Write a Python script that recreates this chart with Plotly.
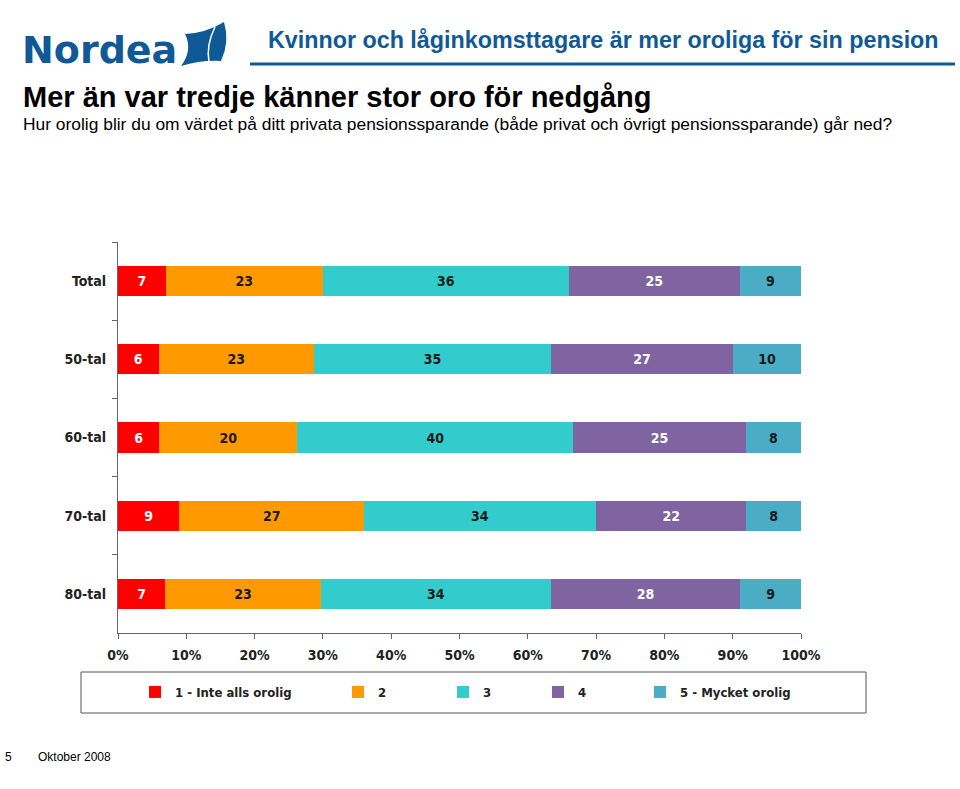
import plotly.graph_objects as go

categories = ["Total", "50-tal", "60-tal", "70-tal", "80-tal"]
series_names = ["1 - Inte alls orolig", "2", "3", "4", "5 - Mycket orolig"]
s1 = [7, 6, 6, 9, 7]
s2 = [23, 23, 20, 27, 23]
s3 = [36, 35, 40, 34, 34]
s4 = [25, 27, 25, 22, 28]
s5 = [9, 10, 8, 8, 9]
series_values = [s1, s2, s3, s4, s5]
colors = ["#ff0000", "#ff9900", "#33cccc", "#8064a2", "#4bacc6"]
text_colors = ["#ffffff", "#1a1a1a", "#1a1a1a", "#ffffff", "#1a1a1a"]

W, H = 960, 789
L, R, T, B = 118, 801, 242, 633

def px(x):
    return (x - L) / (R - L)

def py(y):
    return (B - y) / (B - T)

NARROW = "DejaVu Sans Condensed, Liberation Sans Narrow, Arial Narrow, sans-serif"
SANS = "Liberation Sans, Arial, Helvetica, sans-serif"
BLUE = "#0f5a96"

fig = go.Figure()
legend_ids = ["legend", "legend2", "legend3", "legend4", "legend5"]
legend_text_x = [175, 378, 483, 578, 680]
for i, (name, vals) in enumerate(zip(series_names, series_values)):
    fig.add_trace(go.Bar(
        y=categories, x=vals, name=name, orientation="h",
        marker=dict(color=colors[i], line=dict(width=0)),
        text=vals, textposition="inside", insidetextanchor="middle",
        textangle=0, constraintext="none",
        textfont=dict(family=NARROW, size=14, color=text_colors[i], weight="bold"),
        legend=legend_ids[i], hoverinfo="skip",
    ))

legend_common = dict(
    orientation="h", yanchor="middle", y=py(692), xanchor="left",
    bgcolor="rgba(0,0,0,0)", borderwidth=0,
    font=dict(family=NARROW, size=13, color="#222222", weight="bold"),
    itemwidth=30, tracegroupgap=0,
)
layout_legends = {}
for lid, tx in zip(legend_ids, legend_text_x):
    layout_legends[lid] = dict(legend_common, x=px(tx - 40))

fig.update_layout(
    width=W, height=H,
    margin=dict(l=L, r=W - R, t=T, b=H - B),
    paper_bgcolor="white", plot_bgcolor="white",
    barmode="stack", barnorm="percent", bargap=0.615,
    showlegend=True,
    **layout_legends,
    xaxis=dict(
        range=[0, 100], dtick=10, ticksuffix="%", showgrid=False, zeroline=False,
        showline=True, linecolor="#666666", linewidth=1,
        ticks="outside", ticklen=5, tickcolor="#666666",
        tickfont=dict(family=NARROW, size=14, color="#222222", weight="bold"),
        ticklabelstandoff=4, fixedrange=True,
    ),
    yaxis=dict(
        autorange="reversed", showgrid=False, zeroline=False,
        showline=True, linecolor="#666666", linewidth=1,
        ticks="outside", ticklen=5, tickcolor="#666666", tickson="boundaries",
        tickfont=dict(family=NARROW, size=14, color="#222222", weight="bold"),
        ticklabelstandoff=8, fixedrange=True,
    ),
)

# legend frame
fig.add_shape(type="rect", xref="paper", yref="paper",
              x0=px(81), x1=px(866), y0=py(713), y1=py(672),
              line=dict(color="#555555", width=1), fillcolor="rgba(0,0,0,0)", layer="below")

# header line
fig.add_shape(type="line", xref="paper", yref="paper",
              x0=px(250), x1=px(955), y0=py(64), y1=py(64),
              line=dict(color=BLUE, width=3))

# Nordea sail
sail = (f"M {px(185)},{py(34)} Q {px(206)},{py(33)} {px(224)},{py(22)} "
        f"Q {px(230)},{py(42)} {px(221)},{py(61)} "
        f"Q {px(201)},{py(60)} {px(181)},{py(66)} "
        f"Q {px(193)},{py(50)} {px(185)},{py(34)} Z")
fig.add_shape(type="path", xref="paper", yref="paper", path=sail,
              fillcolor=BLUE, line=dict(color=BLUE, width=0))
fig.add_shape(type="path", xref="paper", yref="paper",
              path=f"M {px(215)},{py(27)} Q {px(206)},{py(45)} {px(209)},{py(62)}",
              line=dict(color="white", width=1.5))

annotations = [
    dict(text="<b>Nordea</b>", x=px(20), y=py(50), xanchor="left", yanchor="middle",
         font=dict(family="DejaVu Sans, Noto Sans, sans-serif", size=38, color=BLUE)),
    dict(text="<b>Kvinnor och låginkomsttagare är mer oroliga för sin pension</b>",
         x=px(941), y=py(40), xanchor="right", yanchor="middle",
         font=dict(family=SANS, size=23.3, color=BLUE)),
    dict(text="<b>Mer än var tredje känner stor oro för nedgång</b>",
         x=px(21), y=py(97), xanchor="left", yanchor="middle",
         font=dict(family=SANS, size=29, color="#000000")),
    dict(text="Hur orolig blir du om värdet på ditt privata pensionssparande (både privat och övrigt pensionssparande) går ned?",
         x=px(21), y=py(124), xanchor="left", yanchor="middle",
         font=dict(family=SANS, size=17.4, color="#000000")),
    dict(text="5", x=px(3), y=py(757), xanchor="left", yanchor="middle",
         font=dict(family=SANS, size=12, color="#000000")),
    dict(text="Oktober 2008", x=px(36), y=py(757), xanchor="left", yanchor="middle",
         font=dict(family=SANS, size=12, color="#000000")),
]
for a in annotations:
    a.update(xref="paper", yref="paper", showarrow=False)
fig.update_layout(annotations=annotations)

fig.write_html("out.html", config={"displayModeBar": False},
               post_script="document.body.style.margin='0px';")
